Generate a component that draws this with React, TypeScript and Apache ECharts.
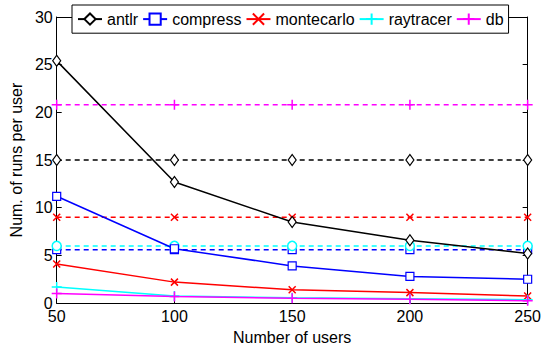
import React, { useEffect, useRef } from "react";
import * as echarts from "echarts";

const users = [50, 100, 150, 200, 250];
const yTicks = [0, 5, 10, 15, 20, 25, 30];

const antlr = [25.4, 12.7, 8.5, 6.6, 5.2];
const compress = [11.2, 5.7, 3.9, 2.8, 2.5];
const montecarlo = [4.1, 2.2, 1.4, 1.1, 0.75];
const raytracer = [1.7, 0.75, 0.55, 0.45, 0.35];
const db = [1.0, 0.7, 0.5, 0.4, 0.25];

const antlrBase = [15, 15, 15, 15, 15];
const compressBase = [5.6, 5.6, 5.6, 5.6, 5.6];
const montecarloBase = [9.0, 9.0, 9.0, 9.0, 9.0];
const raytracerBase = [6.0, 6.0, 6.0, 6.0, 6.0];
const dbBase = [20.8, 20.8, 20.8, 20.8, 20.8];

const names = ["antlr", "compress", "montecarlo", "raytracer", "db"];
const colors = ["#000000", "#0000ff", "#ff0000", "#00ffff", "#ff00ff"];

const FONT = "'Liberation Sans', Arial, Helvetica, sans-serif";

const X_PATH = "path://M0,0L10,10M0,10L10,0";
const PLUS_PATH = "path://M5,0L5,10M0,5L10,5";

type Sym = { symbol: string; size: number | number[]; fill: string; bw: number };

const diamond: Sym = { symbol: "diamond", size: [8, 11], fill: "#ffffff", bw: 1.2 };
const square: Sym = { symbol: "rect", size: 8, fill: "#ffffff", bw: 1.2 };
const cross: Sym = { symbol: X_PATH, size: 7, fill: "none", bw: 1.5 };
const plus: Sym = { symbol: PLUS_PATH, size: 10, fill: "none", bw: 1.5 };
const circle: Sym = { symbol: "circle", size: 9, fill: "#ffffff", bw: 1.5 };

function pairs(vals: number[]) {
  return users.map((u, i) => [u, vals[i]]);
}

function mkSeries(name: string, vals: number[], color: string, s: Sym, dashed: boolean) {
  return {
    type: "line",
    name,
    data: pairs(vals),
    symbol: s.symbol,
    symbolSize: s.size,
    showAllSymbol: true,
    lineStyle: { color, width: 1.5, type: dashed ? [5, 4] : "solid" },
    itemStyle: { color: s.fill, borderColor: color, borderWidth: s.bw },
    emphasis: { disabled: true },
    z: dashed ? 2 : 3,
  };
}

export default function App() {
  const ref = useRef<HTMLDivElement>(null);
  useEffect(() => {
    if (!ref.current) return;
    const chart = echarts.init(ref.current, undefined, { renderer: "svg" });
    const solidSyms = [diamond, square, cross, plus, plus];
    const dashSyms = [diamond, square, cross, circle, plus];
    const solids = [antlr, compress, montecarlo, raytracer, db];
    const bases = [antlrBase, compressBase, montecarloBase, raytracerBase, dbBase];
    const series: any[] = [];
    for (let i = 0; i < 5; i++) {
      series.push(mkSeries(names[i] + " base", bases[i], colors[i], dashSyms[i], true));
    }
    for (let i = 0; i < 5; i++) {
      series.push(mkSeries(names[i], solids[i], colors[i], solidSyms[i], false));
    }
    const axisLine = { show: true, onZero: false, lineStyle: { color: "#000", width: 1 } };
    const axisTick = { show: true, inside: true, length: 5, lineStyle: { color: "#000", width: 1 } };
    const option: any = {
      animation: false,
      backgroundColor: "#ffffff",
      grid: { left: 52, right: 13, top: 17, bottom: 38, containLabel: false },
      legend: {
        data: names,
        left: 72,
        top: 5,
        padding: [6, 5],
        itemGap: 4,
        itemWidth: 24,
        itemHeight: 14,
        backgroundColor: "#ffffff",
        borderColor: "#000000",
        borderWidth: 1,
        borderRadius: 0,
        textStyle: { color: "#000", fontSize: 16, fontFamily: FONT },
      },
      xAxis: [
        {
          type: "value",
          min: 50,
          max: 250,
          interval: 50,
          position: "bottom",
          name: "Number of users",
          nameLocation: "middle",
          nameGap: 19,
          nameTextStyle: { color: "#000", fontSize: 16, fontFamily: FONT },
          axisLine,
          axisTick,
          axisLabel: { color: "#000", fontSize: 16, fontFamily: FONT, margin: 5 },
          splitLine: { show: false },
        },
        {
          type: "value",
          min: 50,
          max: 250,
          interval: 50,
          position: "top",
          axisLine,
          axisTick,
          axisLabel: { show: false },
          splitLine: { show: false },
        },
      ],
      yAxis: [
        {
          type: "value",
          min: yTicks[0],
          max: yTicks[yTicks.length - 1],
          interval: 5,
          position: "left",
          name: "Num. of runs per user",
          nameLocation: "middle",
          nameGap: 25,
          nameTextStyle: { color: "#000", fontSize: 16, fontFamily: FONT },
          axisLine,
          axisTick,
          axisLabel: { color: "#000", fontSize: 16, fontFamily: FONT, margin: 4 },
          splitLine: { show: false },
        },
        {
          type: "value",
          min: yTicks[0],
          max: yTicks[yTicks.length - 1],
          interval: 5,
          position: "right",
          axisLine,
          axisTick,
          axisLabel: { show: false },
          splitLine: { show: false },
        },
      ],
      series,
    };
    chart.setOption(option);
    return () => chart.dispose();
  }, []);
  return (
    <div
      ref={ref}
      style={{ position: "fixed", left: 0, top: 0, width: 544, height: 350, background: "#fff" }}
    />
  );
}
